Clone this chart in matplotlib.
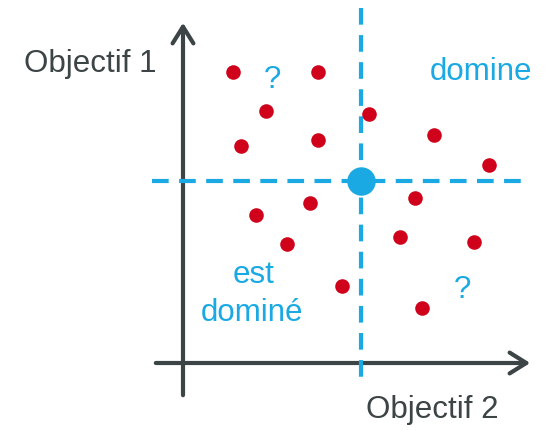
import matplotlib.pyplot as plt
from matplotlib.patches import FancyArrowPatch

plt.rcParams['font.family'] = ['Liberation Sans', 'DejaVu Sans']

# point positions (image pixel units, y pointing down)
red_x = [233, 318, 266, 369, 241, 318, 434, 489, 415, 256, 310, 287, 400, 474, 342, 422]
red_y = [72, 72, 111, 114, 146, 140, 135, 165, 198, 215, 203, 244, 237, 242, 286, 308]
ref_x, ref_y = 361, 181

blue = '#1aa9e3'
red = '#d0021b'
grey = '#3c4446'

fig = plt.figure(figsize=(5.53, 4.30), dpi=100)
ax = fig.add_axes([0, 0, 1, 1])
ax.set_xlim(0, 553)
ax.set_ylim(430, 0)
ax.axis('off')

# axes with arrows
ax.add_patch(FancyArrowPatch((183, 398), (183, 20), arrowstyle='->,head_length=8,head_width=5',
                             color=grey, lw=3, mutation_scale=1.5))
ax.add_patch(FancyArrowPatch((153, 363), (533, 363), arrowstyle='->,head_length=8,head_width=5',
                             color=grey, lw=3, mutation_scale=1.5))

# dashed cross through the reference point
ax.plot([ref_x, ref_x], [8, 383], color=blue, lw=3, dashes=(4, 2.5))
ax.plot([152, 528], [ref_y, ref_y], color=blue, lw=3, dashes=(4, 2.5))

ax.scatter(red_x, red_y, s=110, color=red, zorder=3, linewidths=0)
ax.scatter([ref_x], [ref_y], s=420, color=blue, zorder=4, linewidths=0)

fs = 22.5
ax.text(90, 64, 'Objectif 1', fontsize=fs, color=grey, ha='center', va='center')
ax.text(432, 410, 'Objectif 2', fontsize=fs, color=grey, ha='center', va='center')
ax.text(481, 72, 'domine', fontsize=fs, color=blue, ha='center', va='center')
ax.text(254, 275, 'est', fontsize=fs, color=blue, ha='center', va='center')
ax.text(252, 313, 'dominé', fontsize=fs, color=blue, ha='center', va='center')
ax.text(272, 80, '?', fontsize=fs, color=blue, ha='center', va='center')
ax.text(462, 290, '?', fontsize=fs, color=blue, ha='center', va='center')

fig.savefig('out.png', dpi=100)
